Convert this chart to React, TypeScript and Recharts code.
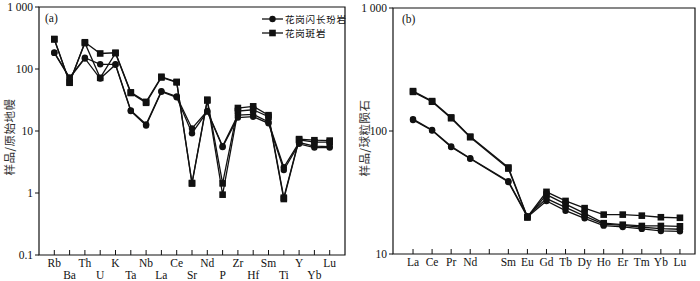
import React from "react";
import {
  LineChart,
  Line,
  XAxis,
  YAxis,
  Legend,
  ReferenceArea,
} from "recharts";

// ---- data ----
// (a) primitive-mantle normalised spider diagram
const spiderLabels = ["Rb", "Ba", "Th", "U", "K", "Ta", "Nb", "La", "Ce", "Sr", "Nd", "P", "Zr", "Hf", "Sm", "Ti", "Y", "Yb", "Lu"];
const spiderGdp1 = [185, 73, 152, 119, 119, 21.5, 12.8, 44, 36, 11, 21, 5.7, 18, 18.5, 14, 2.6, 6.5, 5.7, 5.6];
const spiderGdp2 = [182, 71, 148, 70, 117, 21, 12.3, 43, 35, 9.2, 20.5, 5.5, 16.5, 17, 13.3, 2.35, 6.2, 5.4, 5.4];
const spiderGp1 = [305, 60, 270, 178, 183, 42, 29.5, 75, 62, 1.45, 32, 1.43, 23.5, 25, 18, 0.84, 7.4, 7.1, 7.0];
const spiderGp2 = [300, 61, 262, 72, 180, 41, 28.5, 73, 61, 1.42, 31, 0.94, 21, 22, 17, 0.8, 7.2, 6.6, 6.6];

// (b) chondrite-normalised REE; "" is the Pm gap on the axis
const reeLabels = ["La", "Ce", "Pr", "Nd", "", "Sm", "Eu", "Gd", "Tb", "Dy", "Ho", "Er", "Tm", "Yb", "Lu"];
const reeGdp1 = [123, 101, 74, 59.5, null, 38.5, 20, 27, 22.5, 19.5, 17, 16.6, 16, 15.4, 15.3];
const reeGdp2 = [125, 102, 75, 60, null, 39, 20.3, 28.2, 23.9, 20.3, 17.5, 17.1, 16.5, 16.1, 15.9];
const reeGp1 = [211, 175, 129, 90, null, 50.5, 20, 32, 27, 23.6, 20.9, 20.9, 20.5, 19.9, 19.7];
const reeGp2 = [208, 173, 127, 89, null, 49.5, 19.8, 30.4, 25.4, 21.4, 17.8, 17.3, 16.9, 16.9, 16.8];

const legendNames = ["花岗闪长玢岩", "花岗斑岩"];

const spiderTicks = [0.1, 1, 10, 100, 1000];
const reeTicks = [10, 100, 1000];

const serif = '"Liberation Serif", "DejaVu Serif", serif';
const cjk = '"Noto Sans CJK SC", sans-serif';
const ink = "#111";

const spiderData = spiderLabels.map((_, i) => ({
  x: i,
  g1: spiderGdp1[i],
  g2: spiderGdp2[i],
  p1: spiderGp1[i],
  p2: spiderGp2[i],
}));

const reeData = reeLabels
  .map((_, i) => ({ x: i, g1: reeGdp1[i], g2: reeGdp2[i], p1: reeGp1[i], p2: reeGp2[i] }))
  .filter((r) => r.g1 != null);

const fmtY = (v: number) => (v === 1000 ? "1 000" : String(v));

const circleDot = (p: any) => (
  <circle key={`c-${p.dataKey}-${p.index}`} cx={p.cx} cy={p.cy} r={3.2} fill={ink} />
);
const squareDot = (p: any) => (
  <rect key={`s-${p.dataKey}-${p.index}`} x={p.cx - 3.3} y={p.cy - 3.3} width={6.6} height={6.6} fill={ink} />
);

// inward tick mark + label (two staggered rows for the spider plot)
function makeTick(labels: string[], staggered: boolean) {
  return (p: any) => {
    const i = p.payload.value as number;
    const label = labels[i] ?? "";
    const dy = staggered && i % 2 === 1 ? 24 : 12;
    return (
      <g>
        <line x1={p.x} x2={p.x} y1={p.y} y2={p.y - 5} stroke={ink} strokeWidth={1} />
        <text x={p.x} y={p.y + dy} textAnchor="middle" fontFamily={serif} fontSize={11.5} fill={ink}>
          {label}
        </text>
      </g>
    );
  };
}

const LegendBox = () => (
  <div style={{ fontFamily: cjk, fontSize: 9.5, lineHeight: "14px", color: ink }}>
    {legendNames.map((name, i) => (
      <div key={name} style={{ display: "flex", alignItems: "center", height: 14 }}>
        <svg width={21} height={10} style={{ marginRight: 2 }}>
          <line x1={0} x2={21} y1={5} y2={5} stroke={ink} strokeWidth={1.3} />
          {i === 0 ? (
            <circle cx={10.5} cy={5} r={3.2} fill={ink} />
          ) : (
            <rect x={7.2} y={1.7} width={6.6} height={6.6} fill={ink} />
          )}
        </svg>
        <span style={{ letterSpacing: 0.8 }}>{name}</span>
      </div>
    ))}
  </div>
);

function Series() {
  return [
    <Line key="p1" dataKey="p1" stroke={ink} strokeWidth={1.3} dot={squareDot} isAnimationActive={false} connectNulls />,
    <Line key="p2" dataKey="p2" stroke={ink} strokeWidth={1.3} dot={squareDot} isAnimationActive={false} connectNulls />,
    <Line key="g1" dataKey="g1" stroke={ink} strokeWidth={1.3} dot={circleDot} isAnimationActive={false} connectNulls />,
    <Line key="g2" dataKey="g2" stroke={ink} strokeWidth={1.3} dot={circleDot} isAnimationActive={false} connectNulls />,
  ];
}

const panelTag = (text: string, left: number, top: number) => (
  <div style={{ position: "absolute", left, top, fontFamily: serif, fontSize: 11.5, color: ink }}>{text}</div>
);

const yTitle = (text: string, left: number, top: number) => (
  <div
    style={{
      position: "absolute",
      left,
      top,
      transform: "translate(-50%, -50%) rotate(-90deg)",
      whiteSpace: "nowrap",
      fontFamily: cjk,
      fontSize: 11.5,
      letterSpacing: 0.5,
      color: "#333",
    }}
  >
    {text}
  </div>
);

export default function App() {
  return (
    <div style={{ position: "absolute", left: 0, top: 0, width: 700, height: 281, background: "#fff" }}>
      <div style={{ position: "absolute", left: 0, top: 0 }}>
        <LineChart width={350} height={281} data={spiderData} margin={{ top: 7, right: 5, left: 0, bottom: 0 }}>
          <XAxis
            dataKey="x"
            type="number"
            domain={[-1, 19]}
            ticks={spiderLabels.map((_, i) => i)}
            interval={0}
            height={26}
            tickSize={0}
            tickMargin={0}
            axisLine={false}
            tick={makeTick(spiderLabels, true)}
            allowDataOverflow
          />
          <YAxis
            scale="log"
            domain={[0.1, 1000]}
            ticks={spiderTicks}
            interval={0}
            width={39}
            tickSize={4}
            tickMargin={2}
            axisLine={false}
            tickLine={{ stroke: ink }}
            tickFormatter={fmtY}
            tick={{ fontFamily: serif, fontSize: 11.5, fill: ink }}
            allowDataOverflow
          />
          <ReferenceArea x1={-1} x2={19} y1={0.1} y2={1000} fill="none" stroke={ink} strokeWidth={1.2} />
          {Series()}
          <Legend
            layout="vertical"
            align="center"
            verticalAlign="middle"
            content={LegendBox}
            wrapperStyle={{ left: 262, top: 12, width: "auto", height: "auto" }}
          />
        </LineChart>
        {panelTag("(a)", 45, 12)}
        {yTitle("样品/原始地幔", 9, 137)}
      </div>

      <div style={{ position: "absolute", left: 350, top: 0 }}>
        <LineChart width={350} height={281} data={reeData} margin={{ top: 8, right: 5, left: 0, bottom: 0 }}>
          <XAxis
            dataKey="x"
            type="number"
            domain={[-1.05, 14.79]}
            ticks={reeLabels.map((_, i) => i)}
            interval={0}
            height={27}
            tickSize={0}
            tickMargin={0}
            axisLine={false}
            tick={makeTick(reeLabels, false)}
            allowDataOverflow
          />
          <YAxis
            scale="log"
            domain={[10, 1000]}
            ticks={reeTicks}
            interval={0}
            width={43}
            tickSize={4}
            tickMargin={2}
            axisLine={false}
            tickLine={{ stroke: ink }}
            tickFormatter={fmtY}
            tick={{ fontFamily: serif, fontSize: 11.5, fill: ink }}
            allowDataOverflow
          />
          <ReferenceArea x1={-1.05} x2={14.79} y1={10} y2={1000} fill="none" stroke={ink} strokeWidth={1.2} />
          {Series()}
        </LineChart>
        {panelTag("(b)", 52, 13)}
        {yTitle("样品/球粒陨石", 14, 138)}
      </div>
    </div>
  );
}
